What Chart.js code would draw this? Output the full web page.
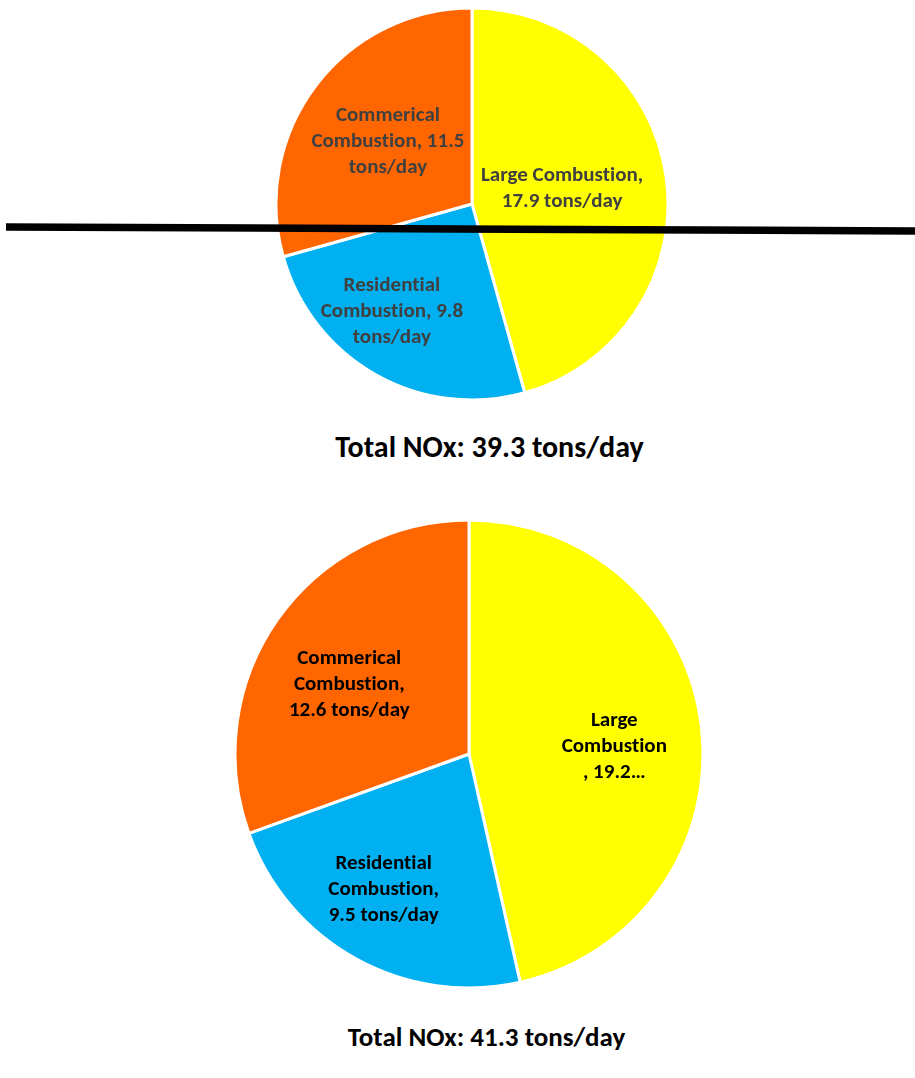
<!DOCTYPE html>
<html>
<head>
<meta charset="utf-8">
<script src="https://cdn.jsdelivr.net/npm/chart.js@4.4.0/dist/chart.umd.min.js"></script>
<style>
  body { margin: 0; background: #fff; width: 915px; height: 1078px; position: relative; overflow: hidden; font-family: Carlito, Lato, sans-serif; }
  .box { position: absolute; }
  .title { position: absolute; left: 0; width: 915px; text-align: center; font-weight: bold; color: #000; font-variant-ligatures: none; }
  #cut { position: absolute; left: 0; top: 0; }
</style>
</head>
<body>
<div class="box" style="left:272px;top:4px;width:400px;height:400px"><canvas id="pieTop"></canvas></div>
<div class="title" style="top:428px;font-size:30px;left:32px">Total NOx: 39.3 tons/day</div>
<div class="box" style="left:229px;top:514px;width:480px;height:480px"><canvas id="pieBottom"></canvas></div>
<div class="title" style="top:1020px;font-size:27px;left:29px">Total NOx: 41.3 tons/day</div>
<svg id="cut" width="915" height="1078"><line x1="6" y1="227" x2="915" y2="231" stroke="#000" stroke-width="7.5"/></svg>
<script>
const categories = ["Large Combustion", "Residential Combustion", "Commerical Combustion"];
const valuesBefore = [17.9, 9.8, 11.5];
const valuesAfter = [19.2, 9.5, 12.6];
const sliceColors = ["#FFFF00", "#00B0F0", "#FF6600"];

// label text as it appears in each chart
const labelsBefore = [["Large Combustion,", "17.9 tons/day"], ["Residential", "Combustion, 9.8", "tons/day"], ["Commerical", "Combustion, 11.5", "tons/day"]];
const labelsAfter = [["Large", "Combustion", ", 19.2\u2026"], ["Residential", "Combustion,", "9.5 tons/day"], ["Commerical", "Combustion,", "12.6 tons/day"]];

const sliceLabels = {
  id: 'sliceLabels',
  afterDatasetsDraw(chart, args, opts) {
    const ctx = chart.ctx;
    const meta = chart.getDatasetMeta(0);
    ctx.save();
    ctx.font = 'bold ' + opts.size + 'px Carlito, Lato, sans-serif';
    ctx.letterSpacing = '0.01px'; // stops the "ti" ligature
    ctx.fillStyle = opts.color;
    ctx.textAlign = 'center';
    ctx.textBaseline = 'middle';
    meta.data.forEach((arc, i) => {
      const p = arc.tooltipPosition();
      const lines = opts.text[i];
      const off = opts.shift[i];
      const y0 = p.y + off[1] - (lines.length - 1) * opts.lineH / 2;
      lines.forEach((t, j) => ctx.fillText(t, p.x + off[0], y0 + j * opts.lineH));
    });
    ctx.restore();
  }
};

function makePie(id, values, radius, text, color, shift) {
  new Chart(document.getElementById(id), {
    type: 'pie',
    data: {
      labels: categories,
      datasets: [{
        data: values,
        backgroundColor: sliceColors,
        borderColor: '#fff',
        borderWidth: 3,
        hoverOffset: 0
      }]
    },
    options: {
      responsive: true,
      maintainAspectRatio: false,
      animation: false,
      radius: radius,
      plugins: {
        legend: { display: false },
        tooltip: { enabled: false },
        sliceLabels: { text: text, color: color, size: 21, lineH: 26, shift: shift }
      }
    },
    plugins: [sliceLabels]
  });
}

makePie('pieTop', valuesBefore, 196, labelsBefore, '#404040', [[-7, -2], [-32, 22], [-6, -3]]);
makePie('pieBottom', valuesAfter, 234, labelsAfter, '#000', [[29, 6], [-29, 33], [-24, -2]]);
</script>
</body>
</html>
